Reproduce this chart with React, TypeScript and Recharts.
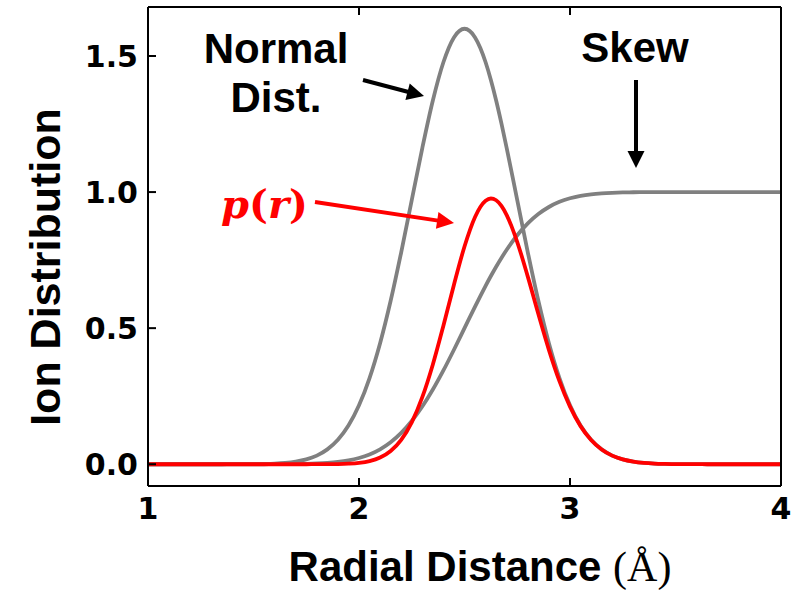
import React from 'react';
import { LineChart, Line, XAxis, YAxis } from 'recharts';

// radial distance samples (Å), extra points round the p(r) peak
const radial = [
  1.0, 1.05, 1.1, 1.15, 1.2, 1.25, 1.3, 1.35, 1.4, 1.45,
  1.5, 1.55, 1.6, 1.65, 1.7, 1.75, 1.8, 1.85, 1.9, 1.95,
  2.0, 2.05, 2.1, 2.15, 2.2, 2.25, 2.3, 2.35, 2.4, 2.45,
  2.5, 2.55, 2.575, 2.6, 2.625, 2.65, 2.675, 2.7, 2.75, 2.8, 2.85, 2.9, 2.95,
  3.0, 3.05, 3.1, 3.15, 3.2, 3.25, 3.3, 3.35, 3.4, 3.45,
  3.5, 3.55, 3.6, 3.65, 3.7, 3.75, 3.8, 3.85, 3.9, 3.95, 4.0,
];

const normalDist = [
  0, 0, 0, 0, 0, 0, 0, 0, 0.0001, 0.0002,
  0.0005, 0.0012, 0.0024, 0.0049, 0.0096, 0.0178, 0.0317, 0.0545, 0.0898, 0.142,
  0.2165, 0.3167, 0.4448, 0.6005, 0.7788, 0.9704, 1.1618, 1.3365, 1.477, 1.5683,
  1.6, 1.5683, 1.5296, 1.477, 1.412, 1.3365, 1.2523, 1.1618, 0.9704, 0.7788, 0.6005, 0.4448, 0.3167,
  0.2165, 0.142, 0.0898, 0.0545, 0.0317, 0.0178, 0.0096, 0.0049, 0.0024, 0.0012,
  0.0005, 0.0002, 0.0001, 0, 0, 0, 0, 0, 0, 0, 0,
];

const skewDist = [
  0, 0, 0, 0, 0, 0, 0, 0, 0, 0,
  0, 0, 0.0002, 0.0003, 0.0007, 0.0013, 0.0026, 0.0047, 0.0082, 0.0139,
  0.0228, 0.0359, 0.0548, 0.0808, 0.1151, 0.1587, 0.2119, 0.2743, 0.3446, 0.4207,
  0.5, 0.5793, 0.6179, 0.6554, 0.6915, 0.7257, 0.758, 0.7881, 0.8413, 0.8849, 0.9192, 0.9452, 0.9641,
  0.9772, 0.9861, 0.9918, 0.9953, 0.9974, 0.9987, 0.9993, 0.9997, 0.9998, 1,
  1, 1, 1, 1, 1, 1, 1, 1, 1, 1, 1,
];

const prDist = [
  0, 0, 0, 0, 0, 0, 0, 0, 0, 0,
  0, 0, 0, 0, 0, 0, 0.0001, 0.0003, 0.0007, 0.002,
  0.0049, 0.0114, 0.0244, 0.0485, 0.0896, 0.154, 0.2462, 0.3666, 0.509, 0.6598,
  0.8, 0.9085, 0.9452, 0.968, 0.9764, 0.97, 0.9493, 0.9156, 0.8164, 0.6892, 0.552, 0.4204, 0.3053,
  0.2116, 0.14, 0.0891, 0.0542, 0.0316, 0.0178, 0.0096, 0.0049, 0.0024, 0.0012,
  0.0005, 0.0002, 0.0001, 0, 0, 0, 0, 0, 0, 0, 0,
];

const xTicks = [1, 2, 3, 4];
const yTicks = [0, 0.5, 1.0, 1.5];

const data = radial.map((r, i) => ({
  r,
  normal: normalDist[i],
  skew: skewDist[i],
  pr: prDist[i],
}));

const W = 792;
const H = 590;
const TICK_LEN = 8;
const TICK_FONT = '"DejaVu Sans", sans-serif';
const LABEL_FONT = '"Liberation Sans", Arial, sans-serif';

// inward ticks, labels outside (matplotlib style)
const BottomTick = ({ x, y, payload }: any) => (
  <g>
    <line x1={x} y1={y} x2={x} y2={y - TICK_LEN} stroke="#000" strokeWidth={2} />
    <text x={x} y={y + 33} textAnchor="middle" fontFamily={TICK_FONT} fontWeight="bold" fontSize={30} fill="#000">
      {payload.value}
    </text>
  </g>
);

const TopTick = ({ x, y }: any) => (
  <line x1={x} y1={y} x2={x} y2={y + TICK_LEN} stroke="#000" strokeWidth={2} />
);

const LeftTick = ({ x, y, payload }: any) => (
  <g>
    <line x1={x} y1={y} x2={x + TICK_LEN} y2={y} stroke="#000" strokeWidth={2} />
    <text x={x - 10} y={y + 11} textAnchor="end" fontFamily={TICK_FONT} fontWeight="bold" fontSize={30} fill="#000">
      {Number(payload.value).toFixed(1)}
    </text>
  </g>
);

const RightTick = ({ x, y }: any) => (
  <line x1={x} y1={y} x2={x - TICK_LEN} y2={y} stroke="#000" strokeWidth={2} />
);

// simple straight arrow with filled head
const Arrow = ({ x1, y1, x2, y2, color }: { x1: number; y1: number; x2: number; y2: number; color: string }) => {
  const len = Math.hypot(x2 - x1, y2 - y1);
  const ux = (x2 - x1) / len;
  const uy = (y2 - y1) / len;
  const head = 17;
  const half = 8.5;
  const bx = x2 - ux * head;
  const by = y2 - uy * head;
  const pts = `${x2},${y2} ${bx - uy * half},${by + ux * half} ${bx + uy * half},${by - ux * half}`;
  return (
    <g>
      <line x1={x1} y1={y1} x2={bx + ux} y2={by + uy} stroke={color} strokeWidth={4} />
      <polygon points={pts} fill={color} />
    </g>
  );
};

const axisLine = { stroke: '#000', strokeWidth: 2 };

export default function App() {
  return (
    <div style={{ position: 'absolute', left: 0, top: 0, width: W, height: H, background: '#fff' }}>
      <LineChart width={W} height={H} data={data} margin={{ top: 6, right: 10, bottom: 64, left: 88 }}>
        <XAxis
          dataKey="r"
          type="number"
          domain={[1, 4]}
          ticks={xTicks}
          interval={0}
          height={40}
          tickSize={0}
          tickMargin={0}
          tickLine={false}
          axisLine={axisLine}
          tick={<BottomTick />}
        />
        <XAxis
          xAxisId="top"
          orientation="top"
          dataKey="r"
          type="number"
          domain={[1, 4]}
          ticks={xTicks}
          interval={0}
          height={1}
          tickSize={0}
          tickMargin={0}
          tickLine={false}
          axisLine={axisLine}
          tick={<TopTick />}
        />
        <YAxis
          type="number"
          domain={[-0.08, 1.68]}
          ticks={yTicks}
          interval={0}
          width={60}
          tickSize={0}
          tickMargin={0}
          tickLine={false}
          axisLine={axisLine}
          tick={<LeftTick />}
        />
        <YAxis
          yAxisId="right"
          orientation="right"
          type="number"
          domain={[-0.08, 1.68]}
          ticks={yTicks}
          interval={0}
          width={1}
          tickSize={0}
          tickMargin={0}
          tickLine={false}
          axisLine={axisLine}
          tick={<RightTick />}
        />
        <Line type="monotone" dataKey="normal" stroke="#808080" strokeWidth={3.8} dot={false} isAnimationActive={false} />
        <Line type="monotone" dataKey="skew" stroke="#808080" strokeWidth={3.8} dot={false} isAnimationActive={false} />
        <Line type="monotone" dataKey="pr" stroke="#ff0000" strokeWidth={3.8} dot={false} isAnimationActive={false} />
      </LineChart>

      <svg width={W} height={H} style={{ position: 'absolute', left: 0, top: 0, pointerEvents: 'none' }}>
        <text
          transform="translate(60,267) rotate(-90)"
          textAnchor="middle"
          fontFamily={LABEL_FONT}
          fontWeight="bold"
          fontSize={43}
          fill="#000"
        >
          Ion Distribution
        </text>
        <text x={480} y={581} textAnchor="middle" fontFamily={LABEL_FONT} fontWeight="bold" fontSize={42} fill="#000">
          Radial Distance{' '}
          <tspan fontFamily='"Liberation Serif", serif' fontWeight="normal">(Å)</tspan>
        </text>

        <text x={276} y={63} textAnchor="middle" fontFamily={LABEL_FONT} fontWeight="bold" fontSize={42} fill="#000">
          Normal
        </text>
        <text x={276} y={112} textAnchor="middle" fontFamily={LABEL_FONT} fontWeight="bold" fontSize={42} fill="#000">
          Dist.
        </text>
        <Arrow x1={363} y1={80} x2={424} y2={96} color="#000" />

        <text x={635} y={62} textAnchor="middle" fontFamily={LABEL_FONT} fontWeight="bold" fontSize={42} fill="#000">
          Skew
        </text>
        <Arrow x1={636} y1={80} x2={636} y2={168} color="#000" />

        <text x={221} y={218} fontFamily='"DejaVu Serif", serif' fontWeight="bold" fontSize={40} fill="#ff0000">
          <tspan fontStyle="italic">p</tspan>(<tspan fontStyle="italic">r</tspan>)
        </text>
        <Arrow x1={315} y1={202} x2={454} y2={223} color="#ff0000" />
      </svg>
    </div>
  );
}
